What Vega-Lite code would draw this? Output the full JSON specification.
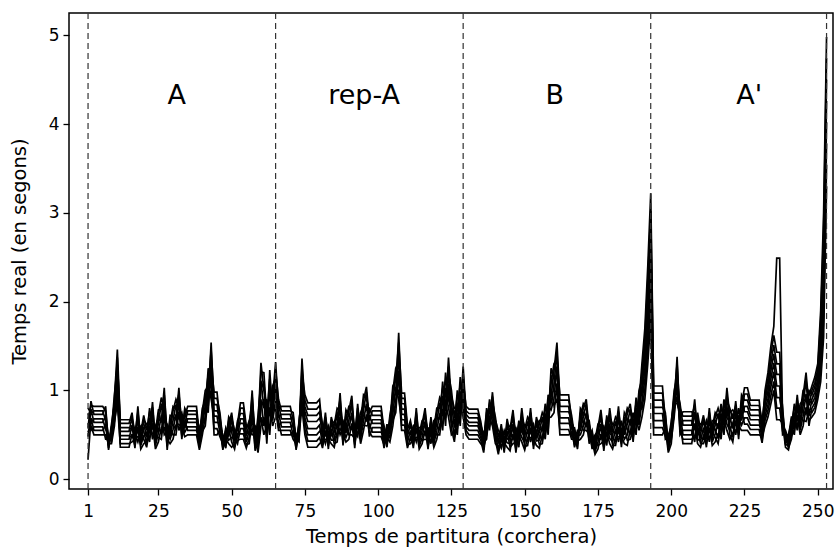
{
"$schema": "https://vega.github.io/schema/vega-lite/v6.json",
"width": 764, "height": 476,
"autosize": {"type": "none"},
"padding": {"left": 69, "top": 13, "right": 2, "bottom": 60},
"background": "white",
"config": {
 "view": {"stroke": "black", "strokeWidth": 1.5},
 "axis": {"domain": false, "grid": false, "tickColor": "black", "tickSize": 6, "tickWidth": 1.3, "labelColor": "black", "labelFont": "DejaVu Sans", "labelFontSize": 17, "titleFont": "DejaVu Sans", "titleFontSize": 19.5, "titleFontWeight": "normal", "titleColor": "black"}
},
"layer": [
{
 "data": {"values": [
{"t":1,"a":0.53,"b":0.22,"c":0.63,"d":0.48,"e":0.74,"f":0.58,"g":0.8,"h":0.68},
{"t":2,"a":0.6,"b":0.69,"c":0.55,"d":0.79,"e":0.64,"f":0.88,"g":0.74,"h":0.83},
{"t":3,"a":0.5,"b":0.55,"c":0.59,"d":0.64,"e":0.68,"f":0.73,"g":0.77,"h":0.82},
{"t":4,"a":0.5,"b":0.55,"c":0.59,"d":0.64,"e":0.68,"f":0.73,"g":0.77,"h":0.82},
{"t":5,"a":0.5,"b":0.55,"c":0.59,"d":0.64,"e":0.68,"f":0.73,"g":0.77,"h":0.82},
{"t":6,"a":0.5,"b":0.55,"c":0.59,"d":0.64,"e":0.68,"f":0.73,"g":0.77,"h":0.82},
{"t":7,"a":0.5,"b":0.61,"c":0.45,"d":0.71,"e":0.56,"f":0.82,"g":0.66,"h":0.77},
{"t":8,"a":0.4,"b":0.35,"c":0.45,"d":0.33,"e":0.5,"f":0.38,"g":0.48,"h":0.43},
{"t":9,"a":0.4,"b":0.53,"c":0.43,"d":0.59,"e":0.46,"f":0.62,"g":0.49,"h":0.56},
{"t":10,"a":0.6,"b":0.65,"c":0.7,"d":0.75,"e":0.8,"f":0.85,"g":0.9,"h":0.95},
{"t":11,"a":1.02,"b":0.85,"c":1.2,"d":0.94,"e":1.37,"f":1.11,"g":1.46,"h":1.29},
{"t":12,"a":0.36,"b":0.4,"c":0.45,"d":0.49,"e":0.54,"f":0.58,"g":0.63,"h":0.67},
{"t":13,"a":0.36,"b":0.4,"c":0.45,"d":0.49,"e":0.54,"f":0.58,"g":0.63,"h":0.67},
{"t":14,"a":0.36,"b":0.4,"c":0.45,"d":0.49,"e":0.54,"f":0.58,"g":0.63,"h":0.67},
{"t":15,"a":0.36,"b":0.4,"c":0.45,"d":0.49,"e":0.54,"f":0.58,"g":0.63,"h":0.67},
{"t":16,"a":0.51,"b":0.42,"c":0.61,"d":0.47,"e":0.7,"f":0.56,"g":0.75,"h":0.66},
{"t":17,"a":0.38,"b":0.45,"c":0.35,"d":0.51,"e":0.42,"f":0.58,"g":0.48,"h":0.55},
{"t":18,"a":0.59,"b":0.48,"c":0.71,"d":0.42,"e":0.82,"f":0.53,"g":0.76,"h":0.65},
{"t":19,"a":0.34,"b":0.49,"c":0.38,"d":0.56,"e":0.41,"f":0.6,"g":0.45,"h":0.53},
{"t":20,"a":0.4,"b":0.45,"c":0.49,"d":0.54,"e":0.58,"f":0.63,"g":0.67,"h":0.72},
{"t":21,"a":0.43,"b":0.36,"c":0.51,"d":0.4,"e":0.58,"f":0.47,"g":0.62,"h":0.55},
{"t":22,"a":0.47,"b":0.58,"c":0.42,"d":0.69,"e":0.53,"f":0.8,"g":0.64,"h":0.75},
{"t":23,"a":0.63,"b":0.51,"c":0.75,"d":0.45,"e":0.87,"f":0.57,"g":0.81,"h":0.69},
{"t":24,"a":0.34,"b":0.49,"c":0.38,"d":0.56,"e":0.41,"f":0.6,"g":0.45,"h":0.53},
{"t":25,"a":0.42,"b":0.47,"c":0.52,"d":0.57,"e":0.63,"f":0.68,"g":0.73,"h":0.78},
{"t":26,"a":0.58,"b":0.45,"c":0.72,"d":0.52,"e":0.85,"f":0.65,"g":0.92,"h":0.79},
{"t":27,"a":0.58,"b":0.73,"c":0.5,"d":0.88,"e":0.65,"f":1.03,"g":0.8,"h":0.95},
{"t":28,"a":0.45,"b":0.37,"c":0.54,"d":0.33,"e":0.62,"f":0.41,"g":0.58,"h":0.5},
{"t":29,"a":0.4,"b":0.58,"c":0.45,"d":0.67,"e":0.49,"f":0.72,"g":0.54,"h":0.63},
{"t":30,"a":0.45,"b":0.5,"c":0.56,"d":0.61,"e":0.66,"f":0.71,"g":0.77,"h":0.82},
{"t":31,"a":0.61,"b":0.5,"c":0.73,"d":0.56,"e":0.84,"f":0.67,"g":0.9,"h":0.79},
{"t":32,"a":0.62,"b":0.76,"c":0.55,"d":0.89,"e":0.69,"f":1.03,"g":0.82,"h":0.96},
{"t":33,"a":0.58,"b":0.49,"c":0.66,"d":0.45,"e":0.75,"f":0.54,"g":0.71,"h":0.62},
{"t":34,"a":0.48,"b":0.66,"c":0.53,"d":0.75,"e":0.57,"f":0.8,"g":0.62,"h":0.71},
{"t":35,"a":0.5,"b":0.55,"c":0.59,"d":0.64,"e":0.68,"f":0.73,"g":0.77,"h":0.82},
{"t":36,"a":0.5,"b":0.55,"c":0.59,"d":0.64,"e":0.68,"f":0.73,"g":0.77,"h":0.82},
{"t":37,"a":0.5,"b":0.55,"c":0.59,"d":0.64,"e":0.68,"f":0.73,"g":0.77,"h":0.82},
{"t":38,"a":0.5,"b":0.55,"c":0.59,"d":0.64,"e":0.68,"f":0.73,"g":0.77,"h":0.82},
{"t":39,"a":0.33,"b":0.46,"c":0.36,"d":0.52,"e":0.39,"f":0.55,"g":0.42,"h":0.49},
{"t":40,"a":0.5,"b":0.54,"c":0.59,"d":0.63,"e":0.67,"f":0.71,"g":0.76,"h":0.8},
{"t":41,"a":0.71,"b":0.6,"c":0.83,"d":0.66,"e":0.94,"f":0.77,"g":1.0,"h":0.89},
{"t":42,"a":0.82,"b":0.96,"c":0.75,"d":1.11,"e":0.89,"f":1.25,"g":1.04,"h":1.18},
{"t":43,"a":1.17,"b":0.99,"c":1.36,"d":0.9,"e":1.54,"f":1.08,"g":1.45,"h":1.27},
{"t":44,"a":0.5,"b":0.57,"c":0.64,"d":0.71,"e":0.77,"f":0.84,"g":0.91,"h":0.98},
{"t":45,"a":0.5,"b":0.57,"c":0.64,"d":0.71,"e":0.77,"f":0.84,"g":0.91,"h":0.98},
{"t":46,"a":0.56,"b":0.48,"c":0.63,"d":0.52,"e":0.71,"f":0.6,"g":0.75,"h":0.67},
{"t":47,"a":0.35,"b":0.4,"c":0.33,"d":0.45,"e":0.38,"f":0.5,"g":0.43,"h":0.48},
{"t":48,"a":0.45,"b":0.38,"c":0.51,"d":0.35,"e":0.58,"f":0.42,"g":0.55,"h":0.48},
{"t":49,"a":0.4,"b":0.57,"c":0.44,"d":0.66,"e":0.49,"f":0.7,"g":0.53,"h":0.61},
{"t":50,"a":0.36,"b":0.42,"c":0.47,"d":0.53,"e":0.58,"f":0.64,"g":0.69,"h":0.75},
{"t":51,"a":0.4,"b":0.34,"c":0.46,"d":0.37,"e":0.52,"f":0.43,"g":0.55,"h":0.49},
{"t":52,"a":0.44,"b":0.51,"c":0.4,"d":0.59,"e":0.47,"f":0.66,"g":0.55,"h":0.62},
{"t":53,"a":0.45,"b":0.51,"c":0.57,"d":0.63,"e":0.68,"f":0.74,"g":0.8,"h":0.86},
{"t":54,"a":0.45,"b":0.51,"c":0.57,"d":0.63,"e":0.68,"f":0.74,"g":0.8,"h":0.86},
{"t":55,"a":0.35,"b":0.39,"c":0.42,"d":0.46,"e":0.49,"f":0.53,"g":0.56,"h":0.6},
{"t":56,"a":0.47,"b":0.4,"c":0.55,"d":0.44,"e":0.62,"f":0.51,"g":0.66,"h":0.59},
{"t":57,"a":0.57,"b":0.71,"c":0.5,"d":0.86,"e":0.64,"f":1.0,"g":0.79,"h":0.93},
{"t":58,"a":0.44,"b":0.36,"c":0.52,"d":0.32,"e":0.6,"f":0.4,"g":0.56,"h":0.48},
{"t":59,"a":0.3,"b":0.54,"c":0.36,"d":0.66,"e":0.42,"f":0.72,"g":0.48,"h":0.6},
{"t":60,"a":0.6,"b":0.7,"c":0.8,"d":0.9,"e":1.01,"f":1.11,"g":1.21,"h":1.31},
{"t":61,"a":0.7,"b":0.5,"c":0.9,"d":0.6,"e":1.1,"f":0.8,"g":1.2,"h":1.0},
{"t":62,"a":0.47,"b":0.61,"c":0.4,"d":0.76,"e":0.54,"f":0.9,"g":0.69,"h":0.83},
{"t":63,"a":0.81,"b":0.6,"c":1.02,"d":0.5,"e":1.23,"f":0.71,"g":1.13,"h":0.92},
{"t":64,"a":0.6,"b":0.86,"c":0.66,"d":0.99,"e":0.73,"f":1.05,"g":0.79,"h":0.92},
{"t":65,"a":0.7,"b":0.79,"c":0.88,"d":0.97,"e":1.05,"f":1.14,"g":1.23,"h":1.32},
{"t":66,"a":0.65,"b":0.55,"c":0.75,"d":0.6,"e":0.85,"f":0.7,"g":0.9,"h":0.8},
{"t":67,"a":0.5,"b":0.55,"c":0.59,"d":0.64,"e":0.68,"f":0.73,"g":0.77,"h":0.82},
{"t":68,"a":0.5,"b":0.55,"c":0.59,"d":0.64,"e":0.68,"f":0.73,"g":0.77,"h":0.82},
{"t":69,"a":0.5,"b":0.55,"c":0.59,"d":0.64,"e":0.68,"f":0.73,"g":0.77,"h":0.82},
{"t":70,"a":0.5,"b":0.55,"c":0.59,"d":0.64,"e":0.68,"f":0.73,"g":0.77,"h":0.82},
{"t":71,"a":0.54,"b":0.45,"c":0.62,"d":0.49,"e":0.71,"f":0.58,"g":0.75,"h":0.66},
{"t":72,"a":0.35,"b":0.4,"c":0.33,"d":0.45,"e":0.38,"f":0.5,"g":0.43,"h":0.48},
{"t":73,"a":0.52,"b":0.45,"c":0.58,"d":0.42,"e":0.65,"f":0.49,"g":0.62,"h":0.55},
{"t":74,"a":0.8,"b":1.12,"c":0.88,"d":1.28,"e":0.96,"f":1.36,"g":1.04,"h":1.2},
{"t":75,"a":0.5,"b":0.56,"c":0.63,"d":0.69,"e":0.76,"f":0.82,"g":0.89,"h":0.95},
{"t":76,"a":0.36,"b":0.43,"c":0.5,"d":0.57,"e":0.65,"f":0.72,"g":0.79,"h":0.86},
{"t":77,"a":0.36,"b":0.43,"c":0.5,"d":0.57,"e":0.65,"f":0.72,"g":0.79,"h":0.86},
{"t":78,"a":0.36,"b":0.43,"c":0.5,"d":0.57,"e":0.65,"f":0.72,"g":0.79,"h":0.86},
{"t":79,"a":0.36,"b":0.43,"c":0.5,"d":0.57,"e":0.65,"f":0.72,"g":0.79,"h":0.86},
{"t":80,"a":0.4,"b":0.47,"c":0.54,"d":0.61,"e":0.69,"f":0.76,"g":0.83,"h":0.9},
{"t":81,"a":0.43,"b":0.35,"c":0.5,"d":0.39,"e":0.58,"f":0.47,"g":0.62,"h":0.54},
{"t":82,"a":0.45,"b":0.55,"c":0.4,"d":0.65,"e":0.5,"f":0.75,"g":0.6,"h":0.7},
{"t":83,"a":0.45,"b":0.38,"c":0.53,"d":0.34,"e":0.6,"f":0.41,"g":0.56,"h":0.49},
{"t":84,"a":0.4,"b":0.57,"c":0.44,"d":0.66,"e":0.49,"f":0.7,"g":0.53,"h":0.61},
{"t":85,"a":0.36,"b":0.4,"c":0.44,"d":0.48,"e":0.53,"f":0.57,"g":0.61,"h":0.65},
{"t":86,"a":0.53,"b":0.42,"c":0.64,"d":0.47,"e":0.75,"f":0.58,"g":0.8,"h":0.69},
{"t":87,"a":0.57,"b":0.7,"c":0.5,"d":0.84,"e":0.63,"f":0.97,"g":0.77,"h":0.9},
{"t":88,"a":0.5,"b":0.42,"c":0.58,"d":0.38,"e":0.66,"f":0.46,"g":0.62,"h":0.54},
{"t":89,"a":0.42,"b":0.63,"c":0.47,"d":0.73,"e":0.52,"f":0.78,"g":0.57,"h":0.68},
{"t":90,"a":0.45,"b":0.5,"c":0.56,"d":0.61,"e":0.66,"f":0.71,"g":0.77,"h":0.82},
{"t":91,"a":0.63,"b":0.5,"c":0.75,"d":0.56,"e":0.88,"f":0.69,"g":0.94,"h":0.81},
{"t":92,"a":0.39,"b":0.46,"c":0.35,"d":0.53,"e":0.42,"f":0.6,"g":0.49,"h":0.56},
{"t":93,"a":0.64,"b":0.53,"c":0.74,"d":0.48,"e":0.85,"f":0.59,"g":0.8,"h":0.69},
{"t":94,"a":0.4,"b":0.6,"c":0.45,"d":0.7,"e":0.5,"f":0.75,"g":0.55,"h":0.65},
{"t":95,"a":0.55,"b":0.61,"c":0.66,"d":0.72,"e":0.78,"f":0.84,"g":0.89,"h":0.95},
{"t":96,"a":0.73,"b":0.6,"c":0.85,"d":0.66,"e":0.98,"f":0.79,"g":1.04,"h":0.91},
{"t":97,"a":0.53,"b":0.62,"c":0.48,"d":0.71,"e":0.57,"f":0.8,"g":0.66,"h":0.75},
{"t":98,"a":0.48,"b":0.53,"c":0.58,"d":0.63,"e":0.67,"f":0.72,"g":0.77,"h":0.82},
{"t":99,"a":0.48,"b":0.53,"c":0.58,"d":0.63,"e":0.67,"f":0.72,"g":0.77,"h":0.82},
{"t":100,"a":0.48,"b":0.53,"c":0.58,"d":0.63,"e":0.67,"f":0.72,"g":0.77,"h":0.82},
{"t":101,"a":0.48,"b":0.53,"c":0.58,"d":0.63,"e":0.67,"f":0.72,"g":0.77,"h":0.82},
{"t":102,"a":0.39,"b":0.46,"c":0.35,"d":0.53,"e":0.42,"f":0.6,"g":0.49,"h":0.56},
{"t":103,"a":0.47,"b":0.4,"c":0.55,"d":0.36,"e":0.62,"f":0.43,"g":0.58,"h":0.51},
{"t":104,"a":0.42,"b":0.59,"c":0.46,"d":0.68,"e":0.51,"f":0.72,"g":0.55,"h":0.63},
{"t":105,"a":0.6,"b":0.66,"c":0.73,"d":0.79,"e":0.86,"f":0.92,"g":0.99,"h":1.05},
{"t":106,"a":0.89,"b":0.75,"c":1.04,"d":0.82,"e":1.18,"f":0.96,"g":1.25,"h":1.11},
{"t":107,"a":1.01,"b":1.22,"c":0.9,"d":1.44,"e":1.11,"f":1.65,"g":1.33,"h":1.54},
{"t":108,"a":0.55,"b":0.61,"c":0.67,"d":0.73,"e":0.79,"f":0.85,"g":0.91,"h":0.97},
{"t":109,"a":0.55,"b":0.61,"c":0.67,"d":0.73,"e":0.79,"f":0.85,"g":0.91,"h":0.97},
{"t":110,"a":0.35,"b":0.39,"c":0.42,"d":0.46,"e":0.49,"f":0.53,"g":0.56,"h":0.6},
{"t":111,"a":0.47,"b":0.4,"c":0.55,"d":0.44,"e":0.62,"f":0.51,"g":0.66,"h":0.59},
{"t":112,"a":0.39,"b":0.46,"c":0.35,"d":0.53,"e":0.42,"f":0.6,"g":0.49,"h":0.56},
{"t":113,"a":0.58,"b":0.47,"c":0.69,"d":0.42,"e":0.8,"f":0.53,"g":0.75,"h":0.64},
{"t":114,"a":0.34,"b":0.48,"c":0.37,"d":0.55,"e":0.41,"f":0.58,"g":0.44,"h":0.51},
{"t":115,"a":0.4,"b":0.44,"c":0.47,"d":0.51,"e":0.55,"f":0.59,"g":0.62,"h":0.66},
{"t":116,"a":0.55,"b":0.45,"c":0.65,"d":0.5,"e":0.75,"f":0.6,"g":0.8,"h":0.7},
{"t":117,"a":0.37,"b":0.44,"c":0.34,"d":0.51,"e":0.41,"f":0.58,"g":0.48,"h":0.55},
{"t":118,"a":0.53,"b":0.44,"c":0.61,"d":0.4,"e":0.7,"f":0.49,"g":0.66,"h":0.57},
{"t":119,"a":0.36,"b":0.53,"c":0.4,"d":0.62,"e":0.45,"f":0.66,"g":0.49,"h":0.57},
{"t":120,"a":0.45,"b":0.5,"c":0.55,"d":0.6,"e":0.65,"f":0.7,"g":0.75,"h":0.8},
{"t":121,"a":0.62,"b":0.5,"c":0.74,"d":0.56,"e":0.86,"f":0.68,"g":0.92,"h":0.8},
{"t":122,"a":0.63,"b":0.79,"c":0.55,"d":0.94,"e":0.71,"f":1.1,"g":0.86,"h":1.02},
{"t":123,"a":0.86,"b":0.69,"c":1.03,"d":0.6,"e":1.2,"f":0.77,"g":1.11,"h":0.94},
{"t":124,"a":0.7,"b":1.08,"c":0.8,"d":1.27,"e":0.89,"f":1.37,"g":0.99,"h":1.18},
{"t":125,"a":0.5,"b":0.57,"c":0.64,"d":0.71,"e":0.79,"f":0.86,"g":0.93,"h":1.0},
{"t":126,"a":0.53,"b":0.42,"c":0.64,"d":0.47,"e":0.75,"f":0.58,"g":0.8,"h":0.69},
{"t":127,"a":0.57,"b":0.71,"c":0.5,"d":0.86,"e":0.64,"f":1.0,"g":0.79,"h":0.93},
{"t":128,"a":0.84,"b":0.68,"c":0.99,"d":0.6,"e":1.15,"f":0.76,"g":1.07,"h":0.91},
{"t":129,"a":0.7,"b":1.03,"c":0.78,"d":1.19,"e":0.86,"f":1.27,"g":0.94,"h":1.11},
{"t":130,"a":0.5,"b":0.55,"c":0.59,"d":0.64,"e":0.68,"f":0.73,"g":0.77,"h":0.82},
{"t":131,"a":0.45,"b":0.5,"c":0.55,"d":0.6,"e":0.64,"f":0.69,"g":0.74,"h":0.79},
{"t":132,"a":0.45,"b":0.5,"c":0.55,"d":0.6,"e":0.64,"f":0.69,"g":0.74,"h":0.79},
{"t":133,"a":0.45,"b":0.5,"c":0.55,"d":0.6,"e":0.64,"f":0.69,"g":0.74,"h":0.79},
{"t":134,"a":0.45,"b":0.5,"c":0.55,"d":0.6,"e":0.64,"f":0.69,"g":0.74,"h":0.79},
{"t":135,"a":0.4,"b":0.44,"c":0.47,"d":0.51,"e":0.54,"f":0.58,"g":0.61,"h":0.65},
{"t":136,"a":0.36,"b":0.3,"c":0.41,"d":0.33,"e":0.47,"f":0.39,"g":0.5,"h":0.44},
{"t":137,"a":0.5,"b":0.6,"c":0.45,"d":0.7,"e":0.55,"f":0.8,"g":0.65,"h":0.75},
{"t":138,"a":0.7,"b":0.6,"c":0.8,"d":0.55,"e":0.9,"f":0.65,"g":0.85,"h":0.75},
{"t":139,"a":0.6,"b":0.82,"c":0.65,"d":0.93,"e":0.71,"f":0.98,"g":0.76,"h":0.87},
{"t":140,"a":0.4,"b":0.44,"c":0.49,"d":0.53,"e":0.57,"f":0.61,"g":0.66,"h":0.7},
{"t":141,"a":0.36,"b":0.28,"c":0.43,"d":0.32,"e":0.51,"f":0.4,"g":0.55,"h":0.47},
{"t":142,"a":0.39,"b":0.47,"c":0.35,"d":0.54,"e":0.43,"f":0.62,"g":0.5,"h":0.58},
{"t":143,"a":0.41,"b":0.34,"c":0.48,"d":0.3,"e":0.55,"f":0.37,"g":0.51,"h":0.44},
{"t":144,"a":0.36,"b":0.54,"c":0.41,"d":0.63,"e":0.45,"f":0.68,"g":0.5,"h":0.59},
{"t":145,"a":0.32,"b":0.36,"c":0.4,"d":0.44,"e":0.48,"f":0.52,"g":0.56,"h":0.6},
{"t":146,"a":0.51,"b":0.4,"c":0.62,"d":0.45,"e":0.73,"f":0.56,"g":0.78,"h":0.67},
{"t":147,"a":0.34,"b":0.42,"c":0.3,"d":0.5,"e":0.38,"f":0.58,"g":0.46,"h":0.54},
{"t":148,"a":0.49,"b":0.4,"c":0.57,"d":0.36,"e":0.66,"f":0.45,"g":0.62,"h":0.53},
{"t":149,"a":0.42,"b":0.64,"c":0.47,"d":0.75,"e":0.53,"f":0.8,"g":0.58,"h":0.69},
{"t":150,"a":0.33,"b":0.37,"c":0.41,"d":0.45,"e":0.48,"f":0.52,"g":0.56,"h":0.6},
{"t":151,"a":0.47,"b":0.38,"c":0.56,"d":0.43,"e":0.65,"f":0.52,"g":0.7,"h":0.61},
{"t":152,"a":0.47,"b":0.58,"c":0.42,"d":0.69,"e":0.53,"f":0.8,"g":0.64,"h":0.75},
{"t":153,"a":0.46,"b":0.38,"c":0.54,"d":0.34,"e":0.62,"f":0.42,"g":0.58,"h":0.5},
{"t":154,"a":0.38,"b":0.56,"c":0.43,"d":0.65,"e":0.47,"f":0.7,"g":0.52,"h":0.61},
{"t":155,"a":0.35,"b":0.39,"c":0.44,"d":0.48,"e":0.53,"f":0.57,"g":0.62,"h":0.66},
{"t":156,"a":0.5,"b":0.4,"c":0.6,"d":0.45,"e":0.7,"f":0.55,"g":0.75,"h":0.65},
{"t":157,"a":0.51,"b":0.62,"c":0.45,"d":0.74,"e":0.56,"f":0.85,"g":0.68,"h":0.79},
{"t":158,"a":0.69,"b":0.56,"c":0.82,"d":0.5,"e":0.95,"f":0.63,"g":0.89,"h":0.76},
{"t":159,"a":0.7,"b":1.01,"c":0.78,"d":1.17,"e":0.86,"f":1.25,"g":0.94,"h":1.09},
{"t":160,"a":0.75,"b":0.83,"c":0.91,"d":0.99,"e":1.06,"f":1.14,"g":1.22,"h":1.3},
{"t":161,"a":1.08,"b":0.9,"c":1.27,"d":0.99,"e":1.45,"f":1.17,"g":1.54,"h":1.36},
{"t":162,"a":0.5,"b":0.56,"c":0.63,"d":0.69,"e":0.76,"f":0.82,"g":0.89,"h":0.95},
{"t":163,"a":0.5,"b":0.56,"c":0.63,"d":0.69,"e":0.76,"f":0.82,"g":0.89,"h":0.95},
{"t":164,"a":0.5,"b":0.56,"c":0.63,"d":0.69,"e":0.76,"f":0.82,"g":0.89,"h":0.95},
{"t":165,"a":0.5,"b":0.56,"c":0.63,"d":0.69,"e":0.76,"f":0.82,"g":0.89,"h":0.95},
{"t":166,"a":0.53,"b":0.45,"c":0.6,"d":0.49,"e":0.68,"f":0.57,"g":0.72,"h":0.64},
{"t":167,"a":0.39,"b":0.45,"c":0.36,"d":0.52,"e":0.42,"f":0.58,"g":0.49,"h":0.55},
{"t":168,"a":0.43,"b":0.37,"c":0.49,"d":0.34,"e":0.55,"f":0.4,"g":0.52,"h":0.46},
{"t":169,"a":0.45,"b":0.65,"c":0.5,"d":0.75,"e":0.55,"f":0.8,"g":0.6,"h":0.7},
{"t":170,"a":0.5,"b":0.55,"c":0.6,"d":0.65,"e":0.7,"f":0.75,"g":0.8,"h":0.85},
{"t":171,"a":0.65,"b":0.55,"c":0.75,"d":0.6,"e":0.85,"f":0.7,"g":0.9,"h":0.8},
{"t":172,"a":0.44,"b":0.51,"c":0.4,"d":0.59,"e":0.47,"f":0.66,"g":0.55,"h":0.62},
{"t":173,"a":0.43,"b":0.37,"c":0.49,"d":0.34,"e":0.55,"f":0.4,"g":0.52,"h":0.46},
{"t":174,"a":0.28,"b":0.41,"c":0.31,"d":0.47,"e":0.34,"f":0.5,"g":0.37,"h":0.44},
{"t":175,"a":0.34,"b":0.38,"c":0.42,"d":0.46,"e":0.5,"f":0.54,"g":0.58,"h":0.62},
{"t":176,"a":0.51,"b":0.4,"c":0.62,"d":0.45,"e":0.73,"f":0.56,"g":0.78,"h":0.67},
{"t":177,"a":0.36,"b":0.44,"c":0.32,"d":0.52,"e":0.4,"f":0.6,"g":0.48,"h":0.56},
{"t":178,"a":0.53,"b":0.43,"c":0.62,"d":0.38,"e":0.72,"f":0.48,"g":0.67,"h":0.57},
{"t":179,"a":0.4,"b":0.63,"c":0.46,"d":0.74,"e":0.51,"f":0.8,"g":0.57,"h":0.69},
{"t":180,"a":0.34,"b":0.38,"c":0.42,"d":0.46,"e":0.5,"f":0.54,"g":0.58,"h":0.62},
{"t":181,"a":0.47,"b":0.38,"c":0.56,"d":0.43,"e":0.65,"f":0.52,"g":0.7,"h":0.61},
{"t":182,"a":0.48,"b":0.59,"c":0.42,"d":0.71,"e":0.53,"f":0.82,"g":0.65,"h":0.76},
{"t":183,"a":0.49,"b":0.4,"c":0.57,"d":0.36,"e":0.66,"f":0.45,"g":0.62,"h":0.53},
{"t":184,"a":0.4,"b":0.6,"c":0.45,"d":0.7,"e":0.5,"f":0.75,"g":0.55,"h":0.65},
{"t":185,"a":0.38,"b":0.44,"c":0.5,"d":0.56,"e":0.62,"f":0.68,"g":0.74,"h":0.8},
{"t":186,"a":0.56,"b":0.45,"c":0.68,"d":0.51,"e":0.79,"f":0.62,"g":0.85,"h":0.74},
{"t":187,"a":0.47,"b":0.56,"c":0.42,"d":0.66,"e":0.51,"f":0.75,"g":0.61,"h":0.7},
{"t":188,"a":0.68,"b":0.56,"c":0.8,"d":0.5,"e":0.92,"f":0.62,"g":0.86,"h":0.74},
{"t":189,"a":0.55,"b":0.81,"c":0.61,"d":0.94,"e":0.68,"f":1.0,"g":0.74,"h":0.87},
{"t":190,"a":0.7,"b":0.79,"c":0.87,"d":0.96,"e":1.04,"f":1.13,"g":1.21,"h":1.3},
{"t":191,"a":0.9,"b":1.01,"c":1.13,"d":1.24,"e":1.36,"f":1.47,"g":1.59,"h":1.7},
{"t":192,"a":1.3,"b":1.46,"c":1.61,"d":1.77,"e":1.93,"f":2.09,"g":2.24,"h":2.4},
{"t":193,"a":1.8,"b":2.0,"c":2.21,"d":2.41,"e":2.61,"f":2.81,"g":3.02,"h":3.22},
{"t":194,"a":0.5,"b":0.58,"c":0.66,"d":0.74,"e":0.81,"f":0.89,"g":0.97,"h":1.05},
{"t":195,"a":0.5,"b":0.58,"c":0.66,"d":0.74,"e":0.81,"f":0.89,"g":0.97,"h":1.05},
{"t":196,"a":0.5,"b":0.58,"c":0.66,"d":0.74,"e":0.81,"f":0.89,"g":0.97,"h":1.05},
{"t":197,"a":0.5,"b":0.58,"c":0.66,"d":0.74,"e":0.81,"f":0.89,"g":0.97,"h":1.05},
{"t":198,"a":0.58,"b":0.49,"c":0.66,"d":0.45,"e":0.75,"f":0.54,"g":0.71,"h":0.62},
{"t":199,"a":0.3,"b":0.41,"c":0.33,"d":0.47,"e":0.36,"f":0.5,"g":0.39,"h":0.44},
{"t":200,"a":0.4,"b":0.44,"c":0.47,"d":0.51,"e":0.54,"f":0.58,"g":0.61,"h":0.65},
{"t":201,"a":0.79,"b":0.7,"c":0.87,"d":0.74,"e":0.96,"f":0.83,"g":1.0,"h":0.91},
{"t":202,"a":0.93,"b":1.08,"c":0.85,"d":1.23,"e":1.0,"f":1.38,"g":1.15,"h":1.3},
{"t":203,"a":0.65,"b":0.55,"c":0.75,"d":0.5,"e":0.85,"f":0.6,"g":0.8,"h":0.7},
{"t":204,"a":0.4,"b":0.45,"c":0.5,"d":0.55,"e":0.61,"f":0.66,"g":0.71,"h":0.76},
{"t":205,"a":0.4,"b":0.45,"c":0.5,"d":0.55,"e":0.61,"f":0.66,"g":0.71,"h":0.76},
{"t":206,"a":0.4,"b":0.45,"c":0.5,"d":0.55,"e":0.61,"f":0.66,"g":0.71,"h":0.76},
{"t":207,"a":0.4,"b":0.45,"c":0.5,"d":0.55,"e":0.61,"f":0.66,"g":0.71,"h":0.76},
{"t":208,"a":0.63,"b":0.49,"c":0.76,"d":0.42,"e":0.9,"f":0.56,"g":0.83,"h":0.69},
{"t":209,"a":0.4,"b":0.6,"c":0.45,"d":0.7,"e":0.5,"f":0.75,"g":0.55,"h":0.65},
{"t":210,"a":0.36,"b":0.4,"c":0.43,"d":0.47,"e":0.51,"f":0.55,"g":0.58,"h":0.62},
{"t":211,"a":0.49,"b":0.4,"c":0.58,"d":0.45,"e":0.67,"f":0.54,"g":0.72,"h":0.63},
{"t":212,"a":0.4,"b":0.49,"c":0.36,"d":0.57,"e":0.45,"f":0.66,"g":0.53,"h":0.62},
{"t":213,"a":0.58,"b":0.47,"c":0.69,"d":0.42,"e":0.8,"f":0.53,"g":0.75,"h":0.64},
{"t":214,"a":0.38,"b":0.54,"c":0.42,"d":0.62,"e":0.46,"f":0.66,"g":0.5,"h":0.58},
{"t":215,"a":0.42,"b":0.47,"c":0.51,"d":0.56,"e":0.61,"f":0.66,"g":0.7,"h":0.75},
{"t":216,"a":0.51,"b":0.4,"c":0.63,"d":0.46,"e":0.74,"f":0.57,"g":0.8,"h":0.69},
{"t":217,"a":0.51,"b":0.62,"c":0.45,"d":0.74,"e":0.56,"f":0.85,"g":0.68,"h":0.79},
{"t":218,"a":0.67,"b":0.56,"c":0.79,"d":0.5,"e":0.9,"f":0.61,"g":0.84,"h":0.73},
{"t":219,"a":0.55,"b":0.82,"c":0.62,"d":0.96,"e":0.69,"f":1.03,"g":0.76,"h":0.89},
{"t":220,"a":0.45,"b":0.5,"c":0.55,"d":0.6,"e":0.65,"f":0.7,"g":0.75,"h":0.8},
{"t":221,"a":0.52,"b":0.42,"c":0.63,"d":0.47,"e":0.73,"f":0.57,"g":0.78,"h":0.68},
{"t":222,"a":0.55,"b":0.66,"c":0.5,"d":0.77,"e":0.61,"f":0.88,"g":0.72,"h":0.83},
{"t":223,"a":0.6,"b":0.5,"c":0.7,"d":0.45,"e":0.8,"f":0.55,"g":0.75,"h":0.65},
{"t":224,"a":0.55,"b":0.78,"c":0.61,"d":0.89,"e":0.66,"f":0.95,"g":0.72,"h":0.84},
{"t":225,"a":0.55,"b":0.62,"c":0.69,"d":0.76,"e":0.82,"f":0.89,"g":0.96,"h":1.03},
{"t":226,"a":0.55,"b":0.62,"c":0.69,"d":0.76,"e":0.82,"f":0.89,"g":0.96,"h":1.03},
{"t":227,"a":0.5,"b":0.56,"c":0.61,"d":0.67,"e":0.72,"f":0.78,"g":0.83,"h":0.89},
{"t":228,"a":0.5,"b":0.56,"c":0.61,"d":0.67,"e":0.72,"f":0.78,"g":0.83,"h":0.89},
{"t":229,"a":0.5,"b":0.56,"c":0.61,"d":0.67,"e":0.72,"f":0.78,"g":0.83,"h":0.89},
{"t":230,"a":0.5,"b":0.56,"c":0.61,"d":0.67,"e":0.72,"f":0.78,"g":0.83,"h":0.89},
{"t":231,"a":0.48,"b":0.41,"c":0.55,"d":0.44,"e":0.62,"f":0.51,"g":0.65,"h":0.58},
{"t":232,"a":0.6,"b":0.66,"c":0.71,"d":0.77,"e":0.83,"f":0.89,"g":0.94,"h":1.0},
{"t":233,"a":0.7,"b":0.77,"c":0.84,"d":0.91,"e":0.99,"f":1.06,"g":1.13,"h":1.2},
{"t":234,"a":0.85,"b":0.94,"c":1.04,"d":1.13,"e":1.22,"f":1.31,"g":1.41,"h":1.5},
{"t":235,"a":1.0,"b":1.1,"c":1.21,"d":1.31,"e":1.41,"f":1.51,"g":1.62,"h":1.72},
{"t":236,"a":0.67,"b":0.8,"c":0.92,"d":1.05,"e":1.18,"f":1.3,"g":1.43,"h":2.49},
{"t":237,"a":0.67,"b":0.8,"c":0.92,"d":1.05,"e":1.18,"f":1.3,"g":1.43,"h":2.49},
{"t":238,"a":0.63,"b":0.54,"c":0.71,"d":0.5,"e":0.8,"f":0.59,"g":0.76,"h":0.67},
{"t":239,"a":0.36,"b":0.47,"c":0.39,"d":0.52,"e":0.41,"f":0.55,"g":0.44,"h":0.5},
{"t":240,"a":0.33,"b":0.35,"c":0.38,"d":0.4,"e":0.43,"f":0.45,"g":0.48,"h":0.5},
{"t":241,"a":0.52,"b":0.45,"c":0.59,"d":0.49,"e":0.66,"f":0.56,"g":0.7,"h":0.63},
{"t":242,"a":0.55,"b":0.65,"c":0.5,"d":0.75,"e":0.6,"f":0.85,"g":0.7,"h":0.8},
{"t":243,"a":0.72,"b":0.61,"c":0.84,"d":0.55,"e":0.95,"f":0.66,"g":0.89,"h":0.78},
{"t":244,"a":0.5,"b":0.7,"c":0.55,"d":0.8,"e":0.6,"f":0.85,"g":0.65,"h":0.75},
{"t":245,"a":0.6,"b":0.66,"c":0.71,"d":0.77,"e":0.83,"f":0.89,"g":0.94,"h":1.0},
{"t":246,"a":0.81,"b":0.65,"c":0.96,"d":0.73,"e":1.12,"f":0.89,"g":1.2,"h":1.04},
{"t":247,"a":0.66,"b":0.77,"c":0.6,"d":0.89,"e":0.71,"f":1.0,"g":0.83,"h":0.94},
{"t":248,"a":0.7,"b":0.75,"c":0.8,"d":0.85,"e":0.9,"f":0.95,"g":1.0,"h":1.05},
{"t":249,"a":0.75,"b":0.81,"c":0.86,"d":0.92,"e":0.98,"f":1.04,"g":1.09,"h":1.15},
{"t":250,"a":0.9,"b":0.96,"c":1.01,"d":1.07,"e":1.13,"f":1.19,"g":1.24,"h":1.3},
{"t":251,"a":1.1,"b":1.21,"c":1.33,"d":1.44,"e":1.56,"f":1.67,"g":1.79,"h":1.9},
{"t":252,"a":1.6,"b":1.8,"c":2.0,"d":2.2,"e":2.4,"f":2.6,"g":2.8,"h":3.0},
{"t":253,"a":3.3,"b":3.54,"c":3.78,"d":4.02,"e":4.26,"f":4.5,"g":4.74,"h":4.98}
 ]},
 "transform": [{"fold": ["a","b","c","d","e","f","g","h"], "as": ["s","y"]}],
 "mark": {"type": "line", "color": "black", "strokeWidth": 1.7, "clip": true},
 "encoding": {
  "x": {"field": "t", "type": "quantitative", "scale": {"domain": [-5.5, 255.2], "nice": false, "zero": false},
        "axis": {"values": [1,25,50,75,100,125,150,175,200,225,250], "title": "Temps de partitura (corchera)", "labelPadding": 8, "titlePadding": 8}},
  "y": {"field": "y", "type": "quantitative", "scale": {"domain": [-0.11, 5.25], "nice": false, "zero": false},
        "axis": {"values": [0,1,2,3,4,5], "format": "d", "title": "Temps real (en segons)", "labelPadding": 4, "titlePadding": 19}},
  "detail": {"field": "s", "type": "nominal"}
 }
},
{
 "data": {"values": [{"x":1},{"x":65},{"x":129},{"x":193},{"x":253}]},
 "mark": {"type": "rule", "color": "#333333", "strokeDash": [6,4], "strokeWidth": 1.2},
 "encoding": {"x": {"field": "x", "type": "quantitative"}}
},
{
 "data": {"values": [{"x":31.3,"y":4.32,"l":"A"},{"x":95.2,"y":4.32,"l":"rep-A"},{"x":160.3,"y":4.32,"l":"B"},{"x":226.6,"y":4.32,"l":"A'"}]},
 "mark": {"type": "text", "font": "DejaVu Sans", "fontSize": 27, "color": "black", "align": "center", "baseline": "middle"},
 "encoding": {"x": {"field": "x", "type": "quantitative"}, "y": {"field": "y", "type": "quantitative"}, "text": {"field": "l"}}
}
]
}
